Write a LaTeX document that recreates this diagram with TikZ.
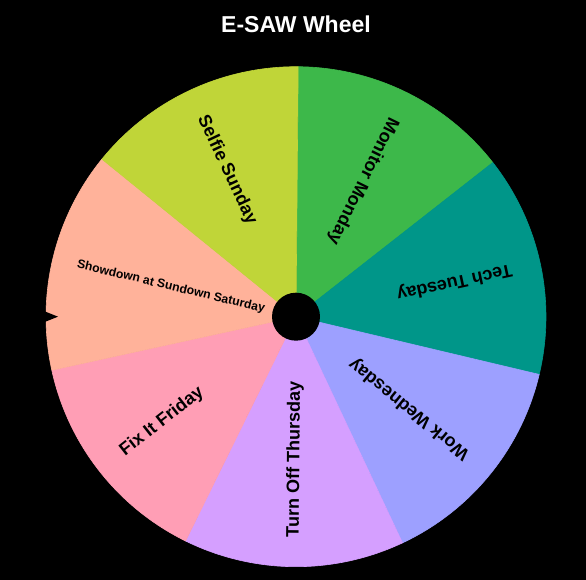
\documentclass[tikz,border=0pt]{standalone}
\usepackage{fontspec}
\setmainfont{Liberation Sans}
\usetikzlibrary{calc}
\definecolor{cmon}{RGB}{61,184,74}
\definecolor{ctue}{RGB}{0,150,137}
\definecolor{cwed}{RGB}{157,160,255}
\definecolor{cthu}{RGB}{213,159,255}
\definecolor{cfri}{RGB}{255,158,181}
\definecolor{csat}{RGB}{255,178,154}
\definecolor{csun}{RGB}{192,213,56}
\begin{document}
\begin{tikzpicture}[x=1pt,y=1pt,
  lbl/.style={font=\bfseries\fontsize{18}{18}\selectfont, text=black, inner sep=0pt, anchor=west},
  smalllbl/.style={lbl, font=\bfseries\fontsize{12.2}{12.2}\selectfont}]
\fill[black] (0,0) rectangle (586,580);
\useasboundingbox (0,0) rectangle (586,580);
\coordinate (c) at (296,263.3);
\def\R{250}
\def\stp{51.428571}
\foreach \col [count=\k from 0] in {cmon,ctue,cwed,cthu,cfri,csat,csun}{
  \pgfmathsetmacro{\a}{89.5-\k*\stp}
  \pgfmathsetmacro{\b}{\a-\stp}
  \filldraw[fill=\col, draw=\col, line width=0.6pt, line join=round] (c) -- ++(\a:\R) arc[start angle=\a, end angle=\b, radius=\R] -- cycle;
}
% labels
\foreach \txt/\k/\nm in {Monitor Monday/0/lmon, Tech Tuesday/1/ltue, Work Wednesday/2/lwed, Turn Off Thursday/3/lthu, Fix It Friday/4/lfri, Selfie Sunday/6/lsun}{
  \pgfmathsetmacro{\m}{89.5-\k*\stp-\stp/2}
  \pgfmathsetmacro{\r}{\m+180}
  \node[lbl, rotate=\r] (\nm) at ($(c)+(\m:221)$) {\txt};
}
\pgfmathsetmacro{\ms}{89.5-5*\stp-\stp/2}
\pgfmathsetmacro{\rs}{\ms+180}
\node[smalllbl, rotate=\rs] (lsat) at ($(c)+(\ms:225)$) {Showdown at Sundown Saturday};
% hub
\node[circle, fill=black, minimum size=48pt, inner sep=0pt] (hub) at (c) {};
% pointer
\fill[black] (40,270.5) -- (58,263.3) -- (40,256.1) -- cycle;
% title
\node[text=white, font=\bfseries\fontsize{23}{23}\selectfont, inner sep=0pt] (title) at (296,555.6) {E-SAW Wheel};
\end{tikzpicture}
\end{document}
